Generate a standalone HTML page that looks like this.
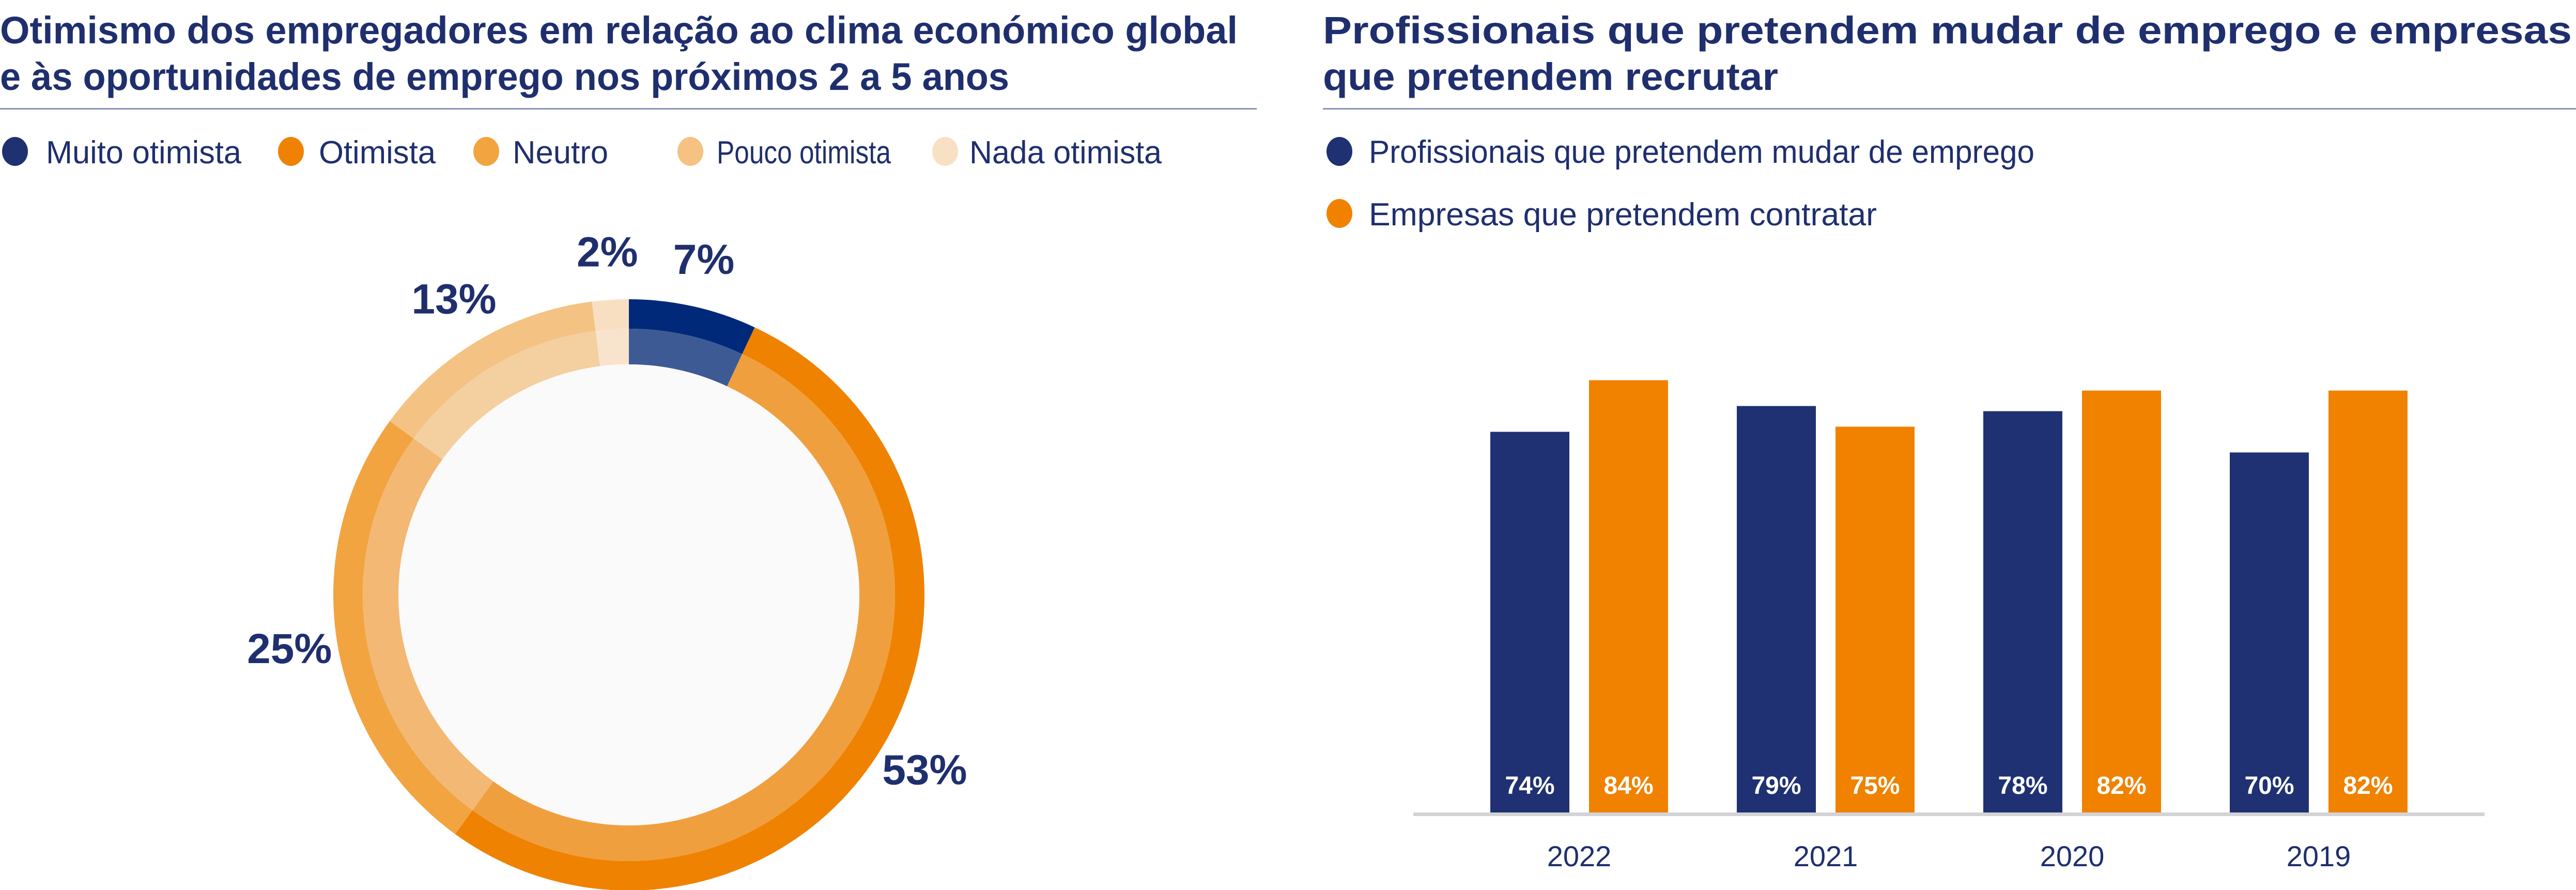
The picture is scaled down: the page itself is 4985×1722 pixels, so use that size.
<!DOCTYPE html>
<html><head><meta charset="utf-8"><style>
html,body{margin:0;padding:0;background:#fff;}
svg{display:block;font-family:"Liberation Sans",sans-serif;}
</style></head><body>
<svg width="4985" height="1722" viewBox="0 0 4985 1722" xmlns="http://www.w3.org/2000/svg">
<g>
<text x="0" y="84" font-size="74" font-weight="bold" fill="#1f2f6e" textLength="2395" lengthAdjust="spacingAndGlyphs">Otimismo dos empregadores em relação ao clima económico global</text>
<text x="0" y="174" font-size="74" font-weight="bold" fill="#1f2f6e" textLength="1953" lengthAdjust="spacingAndGlyphs">e às oportunidades de emprego nos próximos 2 a 5 anos</text>
<rect x="0" y="209" width="2432" height="3" fill="#8a94b8"/>
<g id="donutLegend"></g>
<g id="donut"></g>
</g>
<g>
<text x="2560" y="84" font-size="74" font-weight="bold" fill="#1f2f6e" textLength="2417" lengthAdjust="spacingAndGlyphs">Profissionais que pretendem mudar de emprego e empresas</text>
<text x="2560" y="174" font-size="74" font-weight="bold" fill="#1f2f6e" textLength="881" lengthAdjust="spacingAndGlyphs">que pretendem recrutar</text>
<rect x="2560" y="209" width="2425" height="3" fill="#8a94b8"/>
<g>
<ellipse cx="2592" cy="293" rx="25" ry="28" fill="#1f3172"/>
<text x="2649" y="315" font-size="62" fill="#1f2f6e" textLength="1288" lengthAdjust="spacingAndGlyphs">Profissionais que pretendem mudar de emprego</text>
<ellipse cx="2592" cy="413" rx="25" ry="28" fill="#f08200"/>
<text x="2649" y="436" font-size="62" fill="#1f2f6e" textLength="983" lengthAdjust="spacingAndGlyphs">Empresas que pretendem contratar</text>
</g>
<g id="bars"></g>
</g>
</svg>
<script>
const donutLabels = ["Muito otimista","Otimista","Neutro","Pouco otimista","Nada otimista"];
const donutValues = [7,53,25,13,2];
const years = ["2022","2021","2020","2019"];
const profValues = [74,79,78,70];
const empValues = [84,75,82,82];

const NS="http://www.w3.org/2000/svg";
function mk(tag,attrs,parent){const e=document.createElementNS(NS,tag);for(const k in attrs)e.setAttribute(k,attrs[k]);parent.appendChild(e);return e;}

// legend
const legColors=["#1f3170","#ef8200","#f2a441","#f5c283","#f9e0c4"];
const legCx=[29,563,941,1336,1829], legTx=[89,617,992,1387,1876], legW=[378,226,185,337,372];
const lg=document.getElementById('donutLegend');
donutLabels.forEach((l,i)=>{
  const c=mk('ellipse',{cx:legCx[i],cy:293,rx:25,ry:28,fill:legColors[i]},lg);
  
  
  const t=mk('text',{x:legTx[i],y:316,'font-size':62,fill:'#1f2f6e',textLength:legW[i],lengthAdjust:'spacingAndGlyphs'},lg);
  t.textContent=l;
  
  
});

// donut
const outerC=["#00297a","#ef8200","#f2a441","#f4c283","#f9dfc2"];
const innerC=["#3d5a95","#f09f3f","#f3b874","#f4cfa0","#f8e4cc"];
const cx=1217,cy=1151,R0=572,R1=515,R2=446;
const dg=document.getElementById('donut');
const total=donutValues.reduce((a,b)=>a+b,0);
function arc(r1,r2,a0,a1){
  const p=(r,a)=>[cx+r*Math.sin(a),cy-r*Math.cos(a)];
  const lg=(a1-a0)>Math.PI?1:0;
  const [x0,y0]=p(r1,a0),[x1,y1]=p(r1,a1),[x2,y2]=p(r2,a1),[x3,y3]=p(r2,a0);
  return `M${x0} ${y0}A${r1} ${r1} 0 ${lg} 1 ${x1} ${y1}L${x2} ${y2}A${r2} ${r2} 0 ${lg} 0 ${x3} ${y3}Z`;
}
let acc=0;
donutValues.forEach((v,i)=>{
  const a0=acc/total*2*Math.PI, a1=(acc+v)/total*2*Math.PI;
  const o=mk('path',{d:arc(R0,R1,a0,a1),fill:outerC[i]},dg);
  
  
  const n=mk('path',{d:arc(R1,R2,a0,a1),fill:innerC[i]},dg);
  
  
  const am=(a0+a1)/2, lr=665;
  const t=mk('text',{x:cx+lr*Math.sin(am),y:cy-lr*Math.cos(am)+28,'font-size':82,'font-weight':'bold',fill:'#1f2f6e','text-anchor':'middle'},dg);
  t.textContent=v+'%';
  
  
  acc+=v;
});
const hole=mk('circle',{cx:cx,cy:cy,r:R2,fill:'#fafafa'},dg);



// bars
const bg=document.getElementById('bars');
const baseY=1574, pxPer=9.98, g0=2884, step=477, bw=153, gap=191;
const y=v=>baseY-v*pxPer;
years.forEach((yr,i)=>{
  const x0=g0+i*step;
  [[profValues[i],'#1f3172','prof'],[empValues[i],'#f08200','emp']].forEach(([v,col,s],j)=>{
    const x=x0+j*gap;
    const r=mk('rect',{x:x,y:y(v),width:bw,height:baseY-y(v),fill:col},bg);
    
    
    const t=mk('text',{x:x+bw/2,y:1536,'font-size':48,'font-weight':'bold',fill:'#fff','text-anchor':'middle'},bg);
    t.textContent=v+'%';
    
    
  });
  const yl=mk('text',{x:x0+(gap+bw)/2,y:1676,'font-size':56,fill:'#1f2f6e','text-anchor':'middle'},bg);
  yl.textContent=yr;
  
  
});
const ax=mk('rect',{x:2735,y:1572,width:2073,height:7,fill:'#d3d3d6'},bg);


</script>
</body></html>
